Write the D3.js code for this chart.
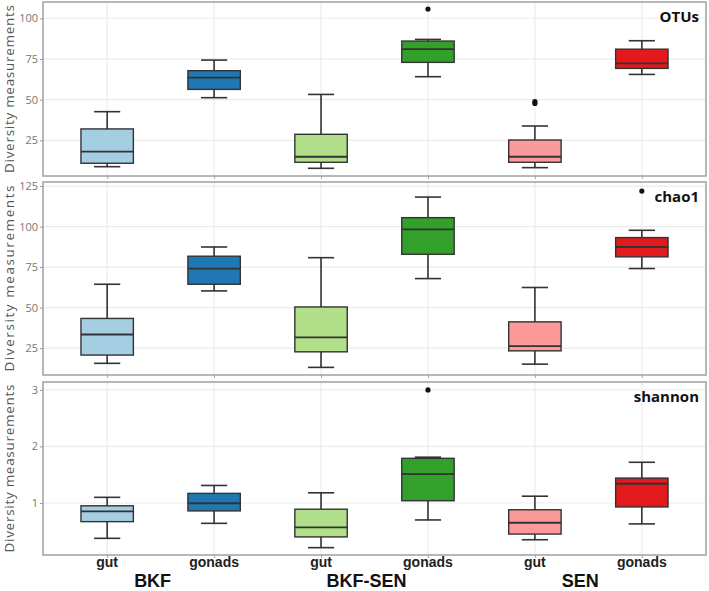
<!DOCTYPE html>
<html><head><meta charset="utf-8">
<script src="https://cdn.jsdelivr.net/npm/d3@7"></script>
<style>body{margin:0;background:#fff}</style>
</head><body><svg id="c" width="709" height="591"></svg>
<script>
// ---- data ----
const groups = ["BKF", "BKF-SEN", "SEN"];
const tissues = ["gut", "gonads"];
const categories = ["BKF gut", "BKF gonads", "BKF-SEN gut", "BKF-SEN gonads", "SEN gut", "SEN gonads"];
const colors = ["#a6cee3", "#1f78b4", "#b2df8a", "#33a02c", "#fb9a99", "#e31a1c"];
const metrics = ["OTUs", "chao1", "shannon"];
// [whiskerLow, q1, median, q3, whiskerHigh]
const otusStats = [
  [8.8, 10.9, 18, 32, 42.6],
  [51.2, 56.3, 63.5, 67.8, 74.3],
  [7.8, 11.5, 14.9, 28.7, 53.2],
  [64.1, 72.9, 81, 86, 87],
  [8.2, 11.5, 14.9, 25.2, 33.8],
  [65.5, 69.2, 72.3, 81, 86.2]
];
const otusOutliers = [[], [], [], [105.7], [47.7, 48.8], []];
const chao1Stats = [
  [15.6, 20.7, 33.4, 43.3, 64.4],
  [60.3, 64.4, 74.1, 81.7, 87.4],
  [13.1, 22.7, 31.6, 50.4, 80.8],
  [67.9, 82.9, 98.3, 105.5, 118.2],
  [15.1, 23.3, 26.2, 41.2, 62.4],
  [74.1, 81.3, 87.4, 93.2, 97.7]
];
const chao1Outliers = [[], [], [], [], [], [121.9]];
const shannonStats = [
  [0.375, 0.67, 0.85, 0.95, 1.1],
  [0.64, 0.86, 0.995, 1.17, 1.31],
  [0.21, 0.40, 0.57, 0.89, 1.18],
  [0.70, 1.04, 1.51, 1.79, 1.81],
  [0.35, 0.45, 0.65, 0.88, 1.12],
  [0.63, 0.93, 1.34, 1.44, 1.72]
];
const shannonOutliers = [[], [], [], [3.0], [], []];
const otusTicks = [25, 50, 75, 100];
const chao1Ticks = [25, 50, 75, 100, 125];
const shannonTicks = [1, 2, 3];
const otusDomain = [3.07, 110];
const chao1Domain = [8.4, 127.5];
const shannonDomain = [0.08, 3.14];
const yLabel = "Diversity measurements";

// ---- layout ----
const svg = d3.select("#c");
const left = 43, right = 706;
const panelsPos = [[2, 176], [182, 375], [382, 555]];
const labelLen = [168, 186, 168];
const panelData = [
  {name: metrics[0], stats: otusStats, out: otusOutliers, ticks: otusTicks, domain: otusDomain},
  {name: metrics[1], stats: chao1Stats, out: chao1Outliers, ticks: chao1Ticks, domain: chao1Domain},
  {name: metrics[2], stats: shannonStats, out: shannonOutliers, ticks: shannonTicks, domain: shannonDomain}
];
const x = d3.scalePoint().domain(categories).range([left, right]).padding(0.6);
const step = x.step();
const boxW = step * 0.49, capW = step * 0.245;

panelData.forEach((p, pi) => {
  const [top, bot] = panelsPos[pi];
  const y = d3.scaleLinear().domain(p.domain).range([bot, top]);
  const g = svg.append("g");
  // grid
  g.selectAll(".gy").data(p.ticks.filter(t => y(t) > top + 1)).enter().append("line")
    .attr("x1", left).attr("x2", right).attr("y1", d => y(d)).attr("y2", d => y(d))
    .attr("stroke", "#ebebeb").attr("stroke-width", 1.2);
  g.selectAll(".gx").data(categories).enter().append("line")
    .attr("x1", d => x(d)).attr("x2", d => x(d)).attr("y1", top).attr("y2", bot)
    .attr("stroke", "#ebebeb").attr("stroke-width", 1.2);
  // y axis
  const ya = g.append("g").attr("transform", `translate(${left},0)`)
    .call(d3.axisLeft(y).tickValues(p.ticks).tickSize(3).tickPadding(2).tickFormat(d3.format("d")));
  ya.select(".domain").remove();
  ya.selectAll(".tick line").attr("stroke", "#999");
  ya.selectAll(".tick text").attr("fill", "#777").attr("font-size", 11)
    .attr("font-family", "Open Sans, sans-serif");
  // x ticks
  const xa = g.append("g").attr("transform", `translate(0,${bot})`)
    .call(d3.axisBottom(x).tickSize(3).tickFormat(""));
  xa.select(".domain").remove();
  xa.selectAll(".tick line").attr("stroke", "#aaa");
  // boxes
  const bg = g.selectAll(".box").data(p.stats).enter().append("g");
  bg.append("line").attr("x1", (d, i) => x(categories[i])).attr("x2", (d, i) => x(categories[i]))
    .attr("y1", d => y(d[0])).attr("y2", d => y(d[4])).attr("stroke", "#333").attr("stroke-width", 1.6);
  bg.append("line").attr("x1", (d, i) => x(categories[i]) - capW / 2).attr("x2", (d, i) => x(categories[i]) + capW / 2)
    .attr("y1", d => y(d[0])).attr("y2", d => y(d[0])).attr("stroke", "#333").attr("stroke-width", 1.6);
  bg.append("line").attr("x1", (d, i) => x(categories[i]) - capW / 2).attr("x2", (d, i) => x(categories[i]) + capW / 2)
    .attr("y1", d => y(d[4])).attr("y2", d => y(d[4])).attr("stroke", "#333").attr("stroke-width", 1.6);
  bg.append("rect").attr("x", (d, i) => x(categories[i]) - boxW / 2).attr("width", boxW)
    .attr("y", d => y(d[3])).attr("height", d => y(d[1]) - y(d[3]))
    .attr("fill", (d, i) => colors[i]).attr("stroke", "#333").attr("stroke-width", 1.4);
  bg.append("line").attr("x1", (d, i) => x(categories[i]) - boxW / 2).attr("x2", (d, i) => x(categories[i]) + boxW / 2)
    .attr("y1", d => y(d[2])).attr("y2", d => y(d[2])).attr("stroke", "#333").attr("stroke-width", 1.8);
  // outliers
  p.out.forEach((arr, i) => {
    g.selectAll(null).data(arr).enter().append("circle")
      .attr("cx", x(categories[i])).attr("cy", d => y(d)).attr("r", 2.6).attr("fill", "#111");
  });
  // border
  g.append("rect").attr("x", left).attr("y", top).attr("width", right - left).attr("height", bot - top)
    .attr("fill", "none").attr("stroke", "#a0a0a0").attr("stroke-width", 1.5);
  // panel label
  g.append("text").attr("x", right - 7).attr("y", top + 20).attr("text-anchor", "end")
    .attr("font-family", "Open Sans, sans-serif").attr("font-weight", "bold").attr("font-size", 15)
    .attr("fill", "#111").text(p.name);
  // y label
  g.append("text").attr("transform", `translate(14,${(top + bot) / 2}) rotate(-90)`)
    .attr("text-anchor", "middle").attr("font-family", "Open Sans, sans-serif").attr("font-size", 13.5)
    .attr("textLength", labelLen[pi]).attr("lengthAdjust", "spacing")
    .attr("fill", "#555").text(yLabel);
});

// x labels
const lastBot = panelsPos[2][1];
svg.selectAll(".xl").data(categories).enter().append("text")
  .attr("x", d => x(d)).attr("y", lastBot + 12).attr("text-anchor", "middle")
  .attr("font-family", "Liberation Sans, Arial, sans-serif").attr("font-weight", "bold").attr("font-size", 14)
  .attr("fill", "#222").text((d, i) => tissues[i % 2]);
svg.selectAll(".gl").data(groups).enter().append("text")
  .attr("x", (d, i) => (x(categories[2 * i]) + x(categories[2 * i + 1])) / 2 - 8)
  .attr("y", lastBot + 32).attr("text-anchor", "middle")
  .attr("font-family", "Liberation Sans, Arial, sans-serif").attr("font-weight", "bold").attr("font-size", 18)
  .attr("fill", "#111").text(d => d);
</script>
</body></html>
